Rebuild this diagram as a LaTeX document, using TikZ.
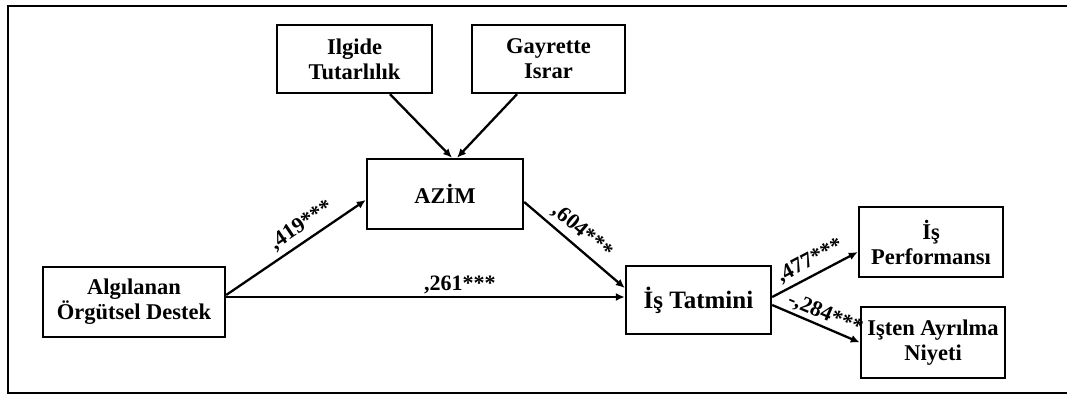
\documentclass[tikz,border=0pt]{standalone}
\usepackage{fontspec}
\setmainfont{Liberation Serif}
\usetikzlibrary{arrows.meta,calc}
\begin{document}
\begin{tikzpicture}[x=1pt,y=1pt,
  box/.style={draw,line width=2.4pt,minimum width=#1,inner sep=0pt,align=center,
    font=\fontsize{22.5}{25}\selectfont\bfseries},
  link/.style={line width=2.3pt,-{Latex[length=9pt,width=8pt]}},
  coef/.style={font=\fontsize{22}{24}\selectfont\bfseries,inner sep=1pt}]
\useasboundingbox (0,0) rectangle (1067,396);
% outer frame
\draw[line width=2.6pt] (1080,390) -- (8,390) -- (8,3) -- (1080,3);
% variables
\node[box=155pt,minimum height=68pt] (ilg) at (354.5,337) {Ilgide\\Tutarlılık};
\node[box=153pt,minimum height=68pt] (gay) at (548.5,337) {Gayrette\\Israr};
\node[box=156pt,minimum height=70pt] (azim) at (445,202) {AZİM};
\node[box=182pt,minimum height=70pt] (aod) at (134,94) {Algılanan\\Örgütsel Destek};
\node[box=145pt,minimum height=68pt,font=\fontsize{25}{27}\selectfont\bfseries] (ist) at (698.5,96) {İş Tatmini};
\node[box=144pt,minimum height=70pt] (perf) at (931,154) {İş\\Performansı};
\node[box=144pt,minimum height=71pt] (ayr) at (933,53.5) {Işten Ayrılma\\Niyeti};
% paths
\draw[link] ($(ilg.south)+(35.5,0)$) -- ($(azim.north)+(7,0)$);
\draw[link] ($(gay.south)+(-31.5,0)$) -- ($(azim.north)+(12,0)$);
\draw[link] ($(aod.east)+(0,7)$) -- node[coef,sloped,above=4pt,pos=0.6]{,419***} ($(azim.west)+(0,-6)$);
\draw[link] ($(aod.east)+(0,5)$) -- node[coef,above=1pt,pos=0.586]{,261***} ($(ist.west)+(0,3)$);
\draw[link] ($(azim.east)+(0,-8)$) -- node[coef,sloped,above=4pt,pos=0.48]{,604***} ($(ist.west)+(0,12)$);
\draw[link] ($(ist.east)+(0,3)$) -- node[coef,sloped,above=3pt,pos=0.52]{,477***} ($(perf.west)+(0,-10)$);
\draw[link] ($(ist.east)+(0,-5)$) -- node[coef,sloped,above=1pt,pos=0.55]{-,284***} (ayr.west);
\end{tikzpicture}
\end{document}
